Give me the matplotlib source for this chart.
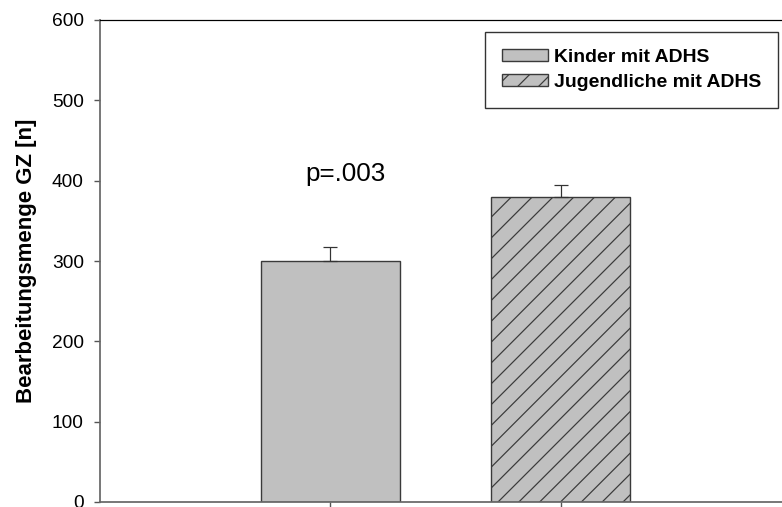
import matplotlib.pyplot as plt
from matplotlib.patches import Patch

plt.rcParams["font.family"] = ["Liberation Sans", "DejaVu Sans"]
plt.rcParams["hatch.linewidth"] = 0.7
plt.rcParams["hatch.color"] = "#000000"

# Data
groups = ["Kinder mit ADHS", "Jugendliche mit ADHS"]
means = [300, 380]
errors = [17, 15]
hatches = ["", "//"]
p_text = "p=.003"

# Figure (dpi 125 so the hatch spacing matches)
fig = plt.figure(figsize=(782 / 125, 507 / 125), dpi=125)
ax = fig.add_axes([100 / 782, 5 / 507, 691 / 782, 482 / 507])

x = [1, 2]
bars = ax.bar(x, means, width=0.602, color="#c0c0c0", edgecolor="#3a3a3a",
              linewidth=0.8, zorder=2)
for b, h in zip(bars, hatches):
    b.set_hatch(h)

ax.errorbar(x, means, yerr=[[0, 0], errors], fmt="none", ecolor="#333333",
            elinewidth=0.7, capsize=4, capthick=0.7, zorder=3)

ax.text(1.066, 408, p_text, fontsize=15, ha="center", va="center")

ax.set_xlim(0, 3)
ax.set_ylim(0, 600)
ax.set_yticks(range(0, 601, 100))
ax.set_xticks(x)
ax.set_xticklabels([])
ax.tick_params(axis="y", labelsize=11, length=3.3, width=0.8, color="#555555", pad=6)
ax.tick_params(axis="x", length=3.3, width=0.8, color="#555555")
ax.set_ylabel("Bearbeitungsmenge GZ [n]", fontsize=12.8, fontweight="bold", labelpad=8.5)

ax.spines["right"].set_visible(False)
ax.spines["top"].set_color("#000000")
ax.spines["top"].set_linewidth(0.7)
for s in ["left", "bottom"]:
    ax.spines[s].set_color("#666666")
    ax.spines[s].set_linewidth(1.0)

handles = [Patch(facecolor="#c0c0c0", edgecolor="#3a3a3a", linewidth=0.8, hatch=h)
           for h in hatches]
leg = ax.legend(handles, groups, loc="upper right", bbox_to_anchor=(0.981, 0.975),
                borderaxespad=0, fancybox=False, frameon=True, framealpha=1,
                edgecolor="#333333", prop={"weight": "bold", "size": 11.2},
                handlelength=2.4, handleheight=0.62, handletextpad=0.3,
                borderpad=0.85, labelspacing=0.42)
leg.get_frame().set_linewidth(0.8)

fig.savefig("out.png", dpi=125)
